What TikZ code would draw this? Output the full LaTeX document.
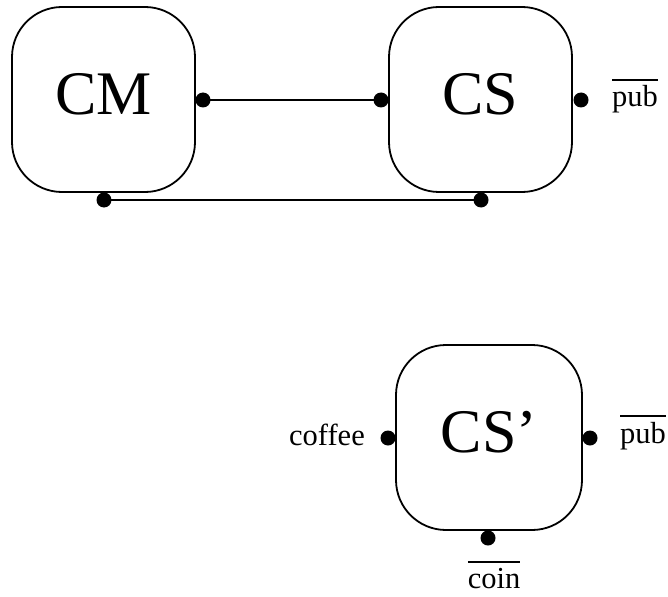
\documentclass[tikz,border=0pt]{standalone}
\usepackage{fontspec}
\setmainfont{Liberation Serif}
\newcommand\ovbar[1]{\vbox{\hrule height 1.5pt\kern 5pt\hbox{#1}}}
\begin{document}
\begin{tikzpicture}[x=1pt,y=-1pt,
  boxn/.style={draw, line width=1.8pt, rounded corners=50pt, rectangle, inner sep=0pt,
    minimum width=183pt, minimum height=185pt, font=\fontsize{62}{62}\selectfont, text depth=11pt},
  dotn/.style={circle, fill=black, inner sep=0pt, minimum size=15pt},
  wire/.style={line width=2.6pt},
  lbl/.style={font=\fontsize{30.5}{36}\selectfont, inner sep=0pt}]
\fill[white] (0,0) rectangle (668,596);
\useasboundingbox (0,0) rectangle (668,596);
% boxes
\node[boxn] (cm) at (103.5,99.5) {CM};
\node[boxn] (cs) at (480.5,99.5) {CS};
\node[boxn, minimum width=186pt] (csp) at (489,437.5) {CS’};
% ports
\node[dotn] (cmR) at (203,100) {};
\node[dotn] (csL) at (381,100) {};
\node[dotn] (csR) at (581,100) {};
\node[dotn] (cmB) at (104,200) {};
\node[dotn] (csB) at (481,200) {};
\node[dotn] (cspL) at (388,438) {};
\node[dotn] (cspR) at (590,438) {};
\node[dotn] (cspB) at (488,538) {};
% connectors
\draw[wire] (cmR.center) -- (csL.center);
\draw[wire] (cmB.center) -- (csB.center);
% labels
\node[lbl, anchor=base west] (pub1) at (612,107) {\ovbar{pub}};
\node[lbl, anchor=base west] (pub2) at (620,443) {\ovbar{pub}};
\node[lbl, anchor=base east] (coffee) at (365,445) {coffee};
\node[lbl, anchor=base] (coin) at (494,588) {\ovbar{coin}};
\end{tikzpicture}
\end{document}
